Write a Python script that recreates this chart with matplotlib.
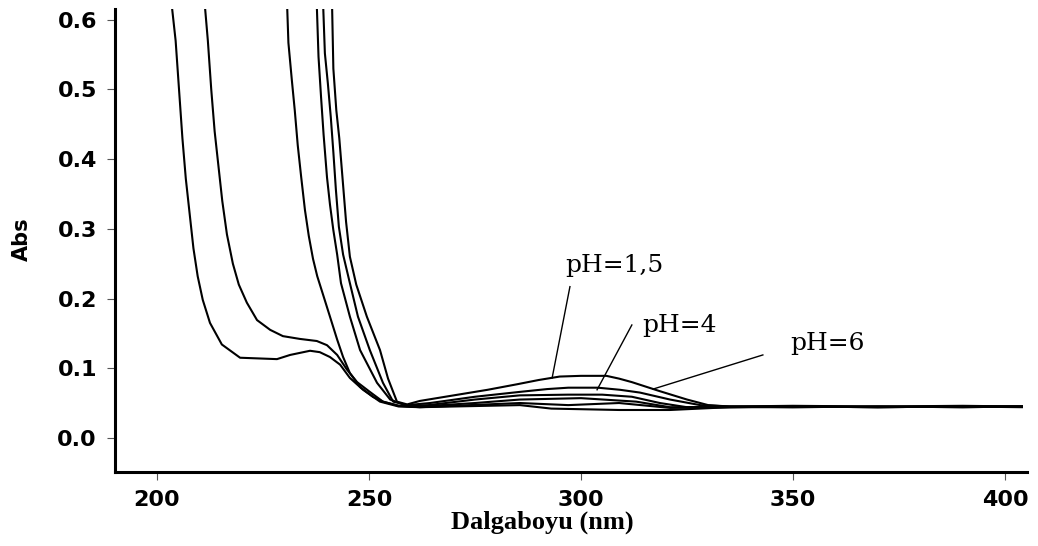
import matplotlib
matplotlib.use("Agg")
import matplotlib.pyplot as plt

# UV-Vis absorption spectra recorded at several pH values
wl_a = [203.5, 204.4, 205.2, 206.0, 206.8, 207.7, 208.6, 209.6, 210.8, 212.5, 215.3, 219.6,
        228.3, 231.4, 236.1, 238.4, 240.8, 243.2, 245.5, 248.6, 252.6, 257.0, 262.0, 285.6,
        293.0, 309.0, 321.0, 335.0, 350.0, 370.0, 390.0, 404.0]
abs_a = [0.620, 0.570, 0.500, 0.430, 0.372, 0.322, 0.272, 0.232, 0.198, 0.165, 0.134, 0.115,
         0.113, 0.119, 0.125, 0.123, 0.116, 0.105, 0.086, 0.069, 0.052, 0.045, 0.044, 0.047,
         0.042, 0.040, 0.040, 0.044, 0.045, 0.044, 0.045, 0.044]

wl_b = [211.3, 212.0, 212.8, 213.6, 214.5, 215.4, 216.5, 217.9, 219.3, 221.2, 223.6, 226.7,
        229.7, 233.7, 237.7, 240.1, 242.5, 244.8, 247.2, 250.2, 253.3, 257.0, 262.0, 285.6,
        297.0, 309.0, 321.0, 335.0, 350.0, 370.0, 390.0, 404.0]
abs_b = [0.620, 0.570, 0.500, 0.440, 0.390, 0.340, 0.292, 0.250, 0.220, 0.194, 0.169, 0.155,
         0.146, 0.142, 0.139, 0.133, 0.119, 0.098, 0.080, 0.066, 0.052, 0.046, 0.044, 0.050,
         0.047, 0.050, 0.043, 0.044, 0.044, 0.045, 0.044, 0.045]

wl_c = [230.7, 231.0, 231.8, 232.5, 233.2, 234.0, 234.9, 235.8, 236.8, 237.8, 239.2, 240.8,
        242.5, 243.9, 245.5, 247.9, 250.9, 253.3, 257.0, 262.0, 275.0, 285.6, 300.0, 313.0,
        321.0, 335.0, 350.0, 370.0, 390.0, 404.0]
abs_c = [0.620, 0.567, 0.514, 0.470, 0.420, 0.375, 0.327, 0.290, 0.257, 0.232, 0.205, 0.174,
         0.141, 0.116, 0.093, 0.073, 0.059, 0.052, 0.046, 0.045, 0.050, 0.055, 0.057, 0.052,
         0.044, 0.044, 0.045, 0.044, 0.045, 0.045]

wl_d = [237.7, 238.1, 238.7, 239.3, 240.1, 240.8, 241.6, 242.5, 243.4, 245.5, 247.9, 251.9,
        255.0, 259.0, 264.0, 275.0, 285.6, 297.0, 305.0, 312.0, 318.6, 325.0, 335.0, 350.0,
        370.0, 390.0, 404.0]
abs_d = [0.620, 0.547, 0.489, 0.435, 0.374, 0.335, 0.298, 0.263, 0.222, 0.174, 0.126, 0.079,
         0.055, 0.046, 0.047, 0.055, 0.061, 0.062, 0.062, 0.059, 0.050, 0.044, 0.045, 0.044,
         0.045, 0.044, 0.045]

wl_e = [239.2, 239.6, 240.3, 241.0, 241.6, 242.2, 242.9, 243.9, 245.5, 247.4, 250.2, 253.3,
        255.7, 259.0, 264.4, 275.0, 285.6, 292.0, 297.0, 304.0, 309.2, 313.9, 321.0, 328.1,
        335.0, 350.0, 370.0, 390.0, 404.0]
abs_e = [0.620, 0.552, 0.509, 0.460, 0.410, 0.356, 0.303, 0.263, 0.222, 0.174, 0.126, 0.079,
         0.052, 0.047, 0.050, 0.059, 0.066, 0.070, 0.072, 0.072, 0.069, 0.065, 0.055, 0.047,
         0.045, 0.045, 0.044, 0.045, 0.045]

wl_f = [241.3, 241.6, 242.3, 243.0, 243.8, 244.6, 245.5, 247.0, 249.5, 252.6, 254.5, 256.6,
        259.0, 262.0, 270.0, 278.0, 285.0, 290.0, 295.0, 300.0, 306.0, 309.0, 312.0, 318.6,
        325.0, 330.0, 335.0, 350.0, 370.0, 390.0, 404.0]
abs_f = [0.620, 0.530, 0.470, 0.430, 0.370, 0.310, 0.260, 0.220, 0.174, 0.126, 0.085, 0.052,
         0.048, 0.053, 0.061, 0.069, 0.077, 0.083, 0.088, 0.089, 0.089, 0.085, 0.080, 0.067,
         0.055, 0.047, 0.045, 0.046, 0.045, 0.046, 0.045]

spectra = [(wl_a, abs_a), (wl_b, abs_b), (wl_c, abs_c),
           (wl_d, abs_d), (wl_e, abs_e), (wl_f, abs_f)]

# pH callouts: label text, text anchor, leader line (text end -> curve)
ph_labels = ["pH=1,5", "pH=4", "pH=6"]
label_anchor = [(296.2, 0.238), (314.4, 0.152), (349.3, 0.126)]
leader_start = [(297.4, 0.217), (312.0, 0.162), (342.9, 0.119)]
leader_end = [(293.2, 0.086), (303.8, 0.069), (317.0, 0.070)]

x_ticks = [200, 250, 300, 350, 400]
y_ticks = [0.0, 0.1, 0.2, 0.3, 0.4, 0.5, 0.6]

W, H = 1038, 546
fig = plt.figure(figsize=(W / 100, H / 100), dpi=100)
ax = fig.add_axes([115 / W, 74 / H, (1027 - 115) / W, (472 - 9) / H])

for wl, ab in spectra:
    ax.plot(wl, ab, color="black", lw=1.5)

for text, (tx, ty), (sx, sy), (ex, ey) in zip(ph_labels, label_anchor, leader_start, leader_end):
    ax.plot([sx, ex], [sy, ey], color="black", lw=1.0)
    ax.text(tx, ty, text, family="DejaVu Serif", fontsize=18, ha="left", va="baseline")

ax.set_xlim(190.1, 405.2)
ax.set_ylim(-0.049, 0.6155)
ax.set_xticks(x_ticks)
ax.set_yticks(y_ticks)
ax.set_xticklabels([str(v) for v in x_ticks])
ax.set_yticklabels([f"{v:.1f}" for v in y_ticks])

for lab in ax.get_xticklabels() + ax.get_yticklabels():
    lab.set_fontweight("bold")
    lab.set_fontsize(16)
    lab.set_family("DejaVu Sans")

ax.tick_params(axis="both", direction="out", length=6, width=0.8, color="#555555", pad=7)

for side in ("top", "right"):
    ax.spines[side].set_visible(False)
for side in ("left", "bottom"):
    ax.spines[side].set_linewidth(2.2)
    ax.spines[side].set_color("black")

fig.text(542 / W, 1 - 522 / H, "Dalgaboyu (nm)", family="Liberation Serif",
         fontweight="bold", fontsize=19, ha="center", va="center")
fig.text(22 / W, 1 - 239 / H, "Abs", family="DejaVu Sans", fontweight="bold",
         fontsize=15, rotation=90, ha="center", va="center")

fig.savefig("out.png", dpi=100, facecolor="white")
